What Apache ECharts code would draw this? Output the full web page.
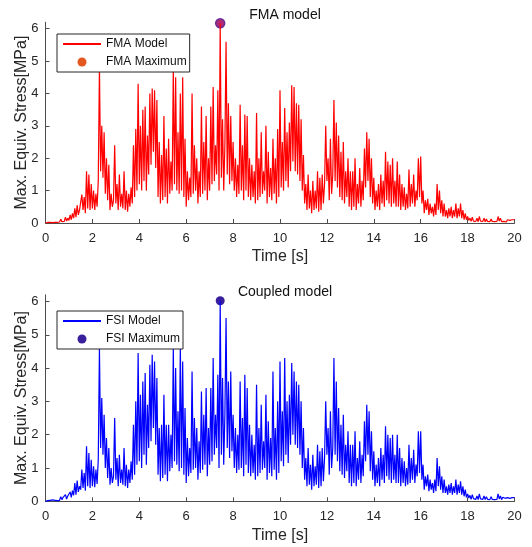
<!DOCTYPE html>
<html>
<head>
<meta charset="utf-8">
<script src="https://cdn.jsdelivr.net/npm/echarts@6/dist/echarts.min.js"></script>
<style>
html,body{margin:0;padding:0;background:#fff;}
#c{width:532px;height:547px;}
</style>
</head>
<body>
<div id="c"></div>
<script>
// sampling step of the time series [s]
const timeStep = 0.05;
const xTicks = [0,2,4,6,8,10,12,14,16,18,20];
const yTicks = [0,1,2,3,4,5,6];

// FMA model, max equivalent stress [MPa], one row per second (0.05 s samples)
const fmaValues = [
0.00,0.01,0.02,0.01,0.02,0.03,0.01,0.03,0.02,0.04,0.02,0.05,0.03,0.12,0.04,0.10,0.05,0.18,0.06,0.15,
0.08,0.25,0.10,0.30,0.15,0.45,0.18,0.55,0.25,0.40,0.35,0.88,0.40,0.80,0.30,1.60,0.45,1.50,0.40,1.20,
0.45,1.00,0.40,0.90,0.50,1.30,4.80,1.60,3.00,1.40,2.80,0.90,2.00,0.70,1.80,0.40,0.90,0.50,0.70,2.40,
0.60,1.20,0.40,1.50,0.50,0.90,0.45,1.60,0.40,1.00,0.35,0.90,0.50,1.10,0.60,2.40,0.80,2.90,1.00,4.30,
1.20,3.00,1.00,3.50,1.30,3.60,1.00,2.70,1.50,4.00,1.80,4.15,2.20,4.10,1.70,3.80,0.80,2.50,0.60,2.10,
0.70,3.30,0.80,2.30,0.60,2.60,0.90,1.90,1.00,4.80,1.20,4.50,1.00,2.80,0.90,4.00,1.00,4.50,0.80,2.60,
0.50,1.60,0.70,1.40,0.80,4.00,0.90,2.40,1.00,2.00,0.60,1.60,0.80,3.60,0.90,2.50,1.00,3.30,0.70,2.00,
1.00,3.60,1.20,4.20,1.30,2.40,1.50,4.10,1.00,6.17,1.40,3.20,1.00,2.40,5.60,1.50,3.70,1.20,3.30,1.30,
2.50,1.00,2.00,0.80,1.80,0.90,3.65,1.00,2.40,0.70,3.35,1.00,3.30,0.80,2.00,0.70,1.80,0.80,1.60,0.60,
3.40,0.70,2.00,0.80,2.80,0.90,1.60,1.00,3.00,0.60,2.20,0.80,1.70,0.70,2.60,0.90,2.00,0.60,2.90,0.80,
4.10,1.10,2.50,1.00,3.55,1.30,2.80,1.10,3.10,1.60,4.25,1.90,4.20,1.60,3.70,1.50,3.65,1.30,3.20,1.00,
2.10,0.60,1.20,0.40,1.50,0.45,1.00,0.30,1.30,0.40,1.00,0.45,1.60,0.35,1.40,0.40,1.50,0.60,1.20,3.00,
1.30,2.00,0.70,2.60,0.90,1.50,3.80,1.30,3.10,1.10,2.70,0.80,2.20,0.70,2.50,0.60,1.60,0.80,2.00,0.50,
1.60,0.40,1.60,0.50,2.00,0.40,1.20,0.60,1.70,0.50,1.30,0.70,2.30,1.10,2.80,1.30,2.60,0.80,2.00,0.60,
1.40,0.40,1.00,0.50,1.20,0.40,1.50,0.60,1.30,0.50,2.20,0.70,1.90,0.60,1.80,0.50,2.00,0.60,1.30,0.50,
1.90,0.50,1.50,0.40,1.20,0.50,1.10,0.40,0.90,0.45,1.65,0.50,1.20,0.60,1.50,0.50,1.00,0.70,2.00,0.80,
2.05,0.60,1.00,0.30,0.70,0.40,0.75,0.25,0.60,0.30,0.50,0.20,0.60,0.25,1.20,0.40,1.00,0.30,0.70,0.20,
0.60,0.20,0.40,0.15,0.45,0.20,0.50,0.15,0.40,0.20,0.60,0.15,0.45,0.20,0.60,0.15,0.40,0.10,0.30,0.10,
0.20,0.08,0.15,0.05,0.18,0.06,0.12,0.05,0.15,0.04,0.20,0.06,0.10,0.05,0.15,0.04,0.12,0.05,0.10,0.04,
0.12,0.05,0.10,0.04,0.08,0.05,0.20,0.06,0.15,0.04,0.10,0.05,0.08,0.03,0.10,0.04,0.08,0.03,0.10,0.05,
0.10
];

// FSI (coupled) model, max equivalent stress [MPa]
const fsiValues = [
0.00,0.01,0.02,0.01,0.03,0.02,0.04,0.02,0.03,0.05,0.02,0.06,0.03,0.14,0.05,0.12,0.06,0.20,0.07,0.16,
0.10,0.28,0.12,0.32,0.18,0.55,0.20,0.62,0.28,0.45,0.35,0.95,0.40,0.85,0.32,1.65,0.45,1.45,0.40,1.25,
0.45,1.05,0.42,0.95,0.52,1.25,4.60,1.60,3.10,1.40,2.60,1.00,1.90,0.70,1.60,0.50,1.00,0.55,0.75,2.50,
0.65,1.30,0.45,1.40,0.55,0.95,0.50,1.60,0.45,1.10,0.40,0.95,0.55,1.20,0.65,2.30,0.80,3.00,1.10,4.45,
1.20,3.20,1.00,3.60,1.40,3.85,1.10,2.90,1.60,4.10,1.80,4.40,2.20,4.20,1.70,3.70,0.80,2.20,0.60,2.30,
0.70,3.20,0.80,2.30,0.60,2.30,0.90,2.00,1.00,4.60,1.20,4.00,1.10,2.70,0.90,4.70,1.00,4.20,0.80,2.80,
0.55,1.90,0.75,1.60,0.85,3.90,0.95,2.50,1.00,2.20,0.65,1.80,0.85,3.30,0.95,2.60,1.10,3.40,0.75,2.20,
1.10,3.40,1.20,4.30,1.40,2.60,1.60,3.80,1.00,6.02,1.40,3.70,1.10,2.60,5.50,1.60,3.60,1.30,3.90,1.50,
2.60,1.00,2.20,0.85,2.00,0.95,3.60,1.00,2.50,0.75,3.80,1.10,3.40,0.85,2.30,0.75,2.00,0.85,1.70,0.65,
3.50,0.75,2.20,0.85,2.90,0.95,1.80,1.00,3.20,0.65,2.40,0.85,1.90,0.75,3.90,0.95,2.20,0.65,3.00,0.85,
4.20,1.20,2.70,1.05,4.30,1.40,3.00,1.15,3.20,1.70,4.15,2.00,3.90,1.70,3.60,1.60,3.50,1.40,3.00,1.00,
2.20,0.65,1.30,0.45,1.60,0.50,1.10,0.35,1.40,0.45,1.05,0.50,1.70,0.40,1.50,0.45,1.60,0.60,1.30,3.00,
1.40,2.20,0.80,2.70,1.00,1.60,4.30,1.40,3.60,1.20,2.80,0.90,2.30,0.80,2.60,0.70,1.70,0.90,2.10,0.55,
1.70,0.45,1.70,0.55,2.10,0.45,1.30,0.65,1.80,0.55,1.40,0.75,2.40,1.20,2.90,1.40,2.70,0.90,2.10,0.65,
1.50,0.45,1.10,0.55,1.30,0.45,1.60,0.65,1.40,0.55,2.25,0.75,2.00,0.65,1.90,0.55,2.00,0.65,1.40,0.55,
2.00,0.55,1.60,0.45,1.30,0.55,1.20,0.45,1.00,0.50,1.70,0.55,1.30,0.65,1.55,0.55,1.10,0.75,2.10,0.85,
2.10,0.65,1.10,0.35,0.75,0.45,0.80,0.30,0.65,0.35,0.55,0.25,0.65,0.30,1.30,0.45,1.05,0.35,0.75,0.25,
0.65,0.25,0.45,0.20,0.50,0.25,0.55,0.20,0.45,0.25,0.65,0.20,0.50,0.25,0.60,0.20,0.45,0.15,0.35,0.12,
0.22,0.10,0.18,0.06,0.20,0.08,0.14,0.06,0.16,0.05,0.22,0.07,0.12,0.06,0.16,0.05,0.14,0.06,0.12,0.05,
0.14,0.06,0.12,0.05,0.10,0.06,0.22,0.07,0.16,0.05,0.12,0.06,0.09,0.04,0.11,0.05,0.09,0.04,0.11,0.06,
0.11
];

// maxima [time s, stress MPa]
const fmaMax = [7.45, 6.17];
const fsiMax = [7.45, 6.02];

function pairs(vals){ return vals.map((v,i)=>[+(i*timeStep).toFixed(2), v]); }

const FONT = 'Liberation Sans, Arial, sans-serif';
const axisCol = '#4d4d4d';
const txtCol = '#262626';

function xAx(gi){
  return {
    type:'value', gridIndex:gi, min:0, max:20, interval:2,
    name:'Time [s]', nameLocation:'middle', nameGap:26,
    nameTextStyle:{color:txtCol, fontSize:16, fontFamily:FONT},
    axisLine:{onZero:false, lineStyle:{color:axisCol, width:1}},
    axisTick:{inside:true, length:4, customValues:xTicks, lineStyle:{color:axisCol}},
    axisLabel:{color:txtCol, fontSize:13, fontFamily:FONT, margin:9, customValues:xTicks},
    splitLine:{show:false}
  };
}
function yAx(gi){
  return {
    type:'value', gridIndex:gi, min:0, max:6.2,
    name:'Max. Equiv. Stress[MPa]', nameLocation:'middle', nameGap:16, nameMoveOverlap:false,
    nameTextStyle:{color:txtCol, fontSize:16, fontFamily:FONT},
    axisLine:{show:true, lineStyle:{color:axisCol, width:1}},
    axisTick:{show:true, inside:true, length:4, customValues:yTicks, lineStyle:{color:axisCol}},
    axisLabel:{color:txtCol, fontSize:13, fontFamily:FONT, margin:7, customValues:yTicks},
    splitLine:{show:false}
  };
}
function legend(names, top){
  return {
    orient:'vertical', left:57, top:top, data:names,
    itemWidth:38, itemHeight:9, itemGap:6,
    padding:[4,3,4,5],
    borderColor:'#262626', borderWidth:1, backgroundColor:'#fff',
    textStyle:{color:'#111', fontSize:12, fontFamily:FONT}
  };
}
const hideSym = {color:'rgba(0,0,0,0)', borderWidth:0, borderColor:'rgba(0,0,0,0)'};

const option = {
  animation:false,
  backgroundColor:'#fff',
  title:[
    {text:'FMA model', left:280, textAlign:'center', top:3,
     textStyle:{fontSize:14, fontWeight:'normal', color:'#111', fontFamily:FONT}},
    {text:'Coupled model', left:280, textAlign:'center', top:280,
     textStyle:{fontSize:14, fontWeight:'normal', color:'#111', fontFamily:FONT}}
  ],
  grid:[
    {left:45.5, right:17.5, top:22.2, height:200.8, outerBoundsMode:'none'},
    {left:45.5, right:17.5, top:294.8, height:206.5, outerBoundsMode:'none'}
  ],
  xAxis:[xAx(0), xAx(1)],
  yAxis:[yAx(0), yAx(1)],
  legend:[
    legend([{name:'FMA Model', itemStyle:hideSym}, {name:'FMA Maximum', itemStyle:{color:'#e2581f', borderWidth:0}}], 34),
    legend([{name:'FSI Model', itemStyle:hideSym}, {name:'FSI Maximum'}], 311)
  ],
  series:[
    {name:'FMA Model', type:'line', xAxisIndex:0, yAxisIndex:0, data:pairs(fmaValues),
     symbol:'none', clip:false, lineStyle:{color:'#ff0000', width:1.2}, itemStyle:{color:'#ff0000'}},
    {name:'FMA Maximum', type:'scatter', xAxisIndex:0, yAxisIndex:0, data:[fmaMax],
     symbolSize:9, clip:false, itemStyle:{color:'#b02a78', borderColor:'#6b2d91', borderWidth:1.5, opacity:1}},
    {name:'FSI Model', type:'line', xAxisIndex:1, yAxisIndex:1, data:pairs(fsiValues),
     symbol:'none', clip:false, lineStyle:{color:'#0000ff', width:1.2}, itemStyle:{color:'#0000ff'}},
    {name:'FSI Maximum', type:'scatter', xAxisIndex:1, yAxisIndex:1, data:[fsiMax],
     symbolSize:9, clip:false, itemStyle:{color:'#3a1f9c', opacity:1}}
  ]
};
const chart = echarts.init(document.getElementById('c'), null, {renderer:'canvas'});
chart.setOption(option);
</script>
</body>
</html>
